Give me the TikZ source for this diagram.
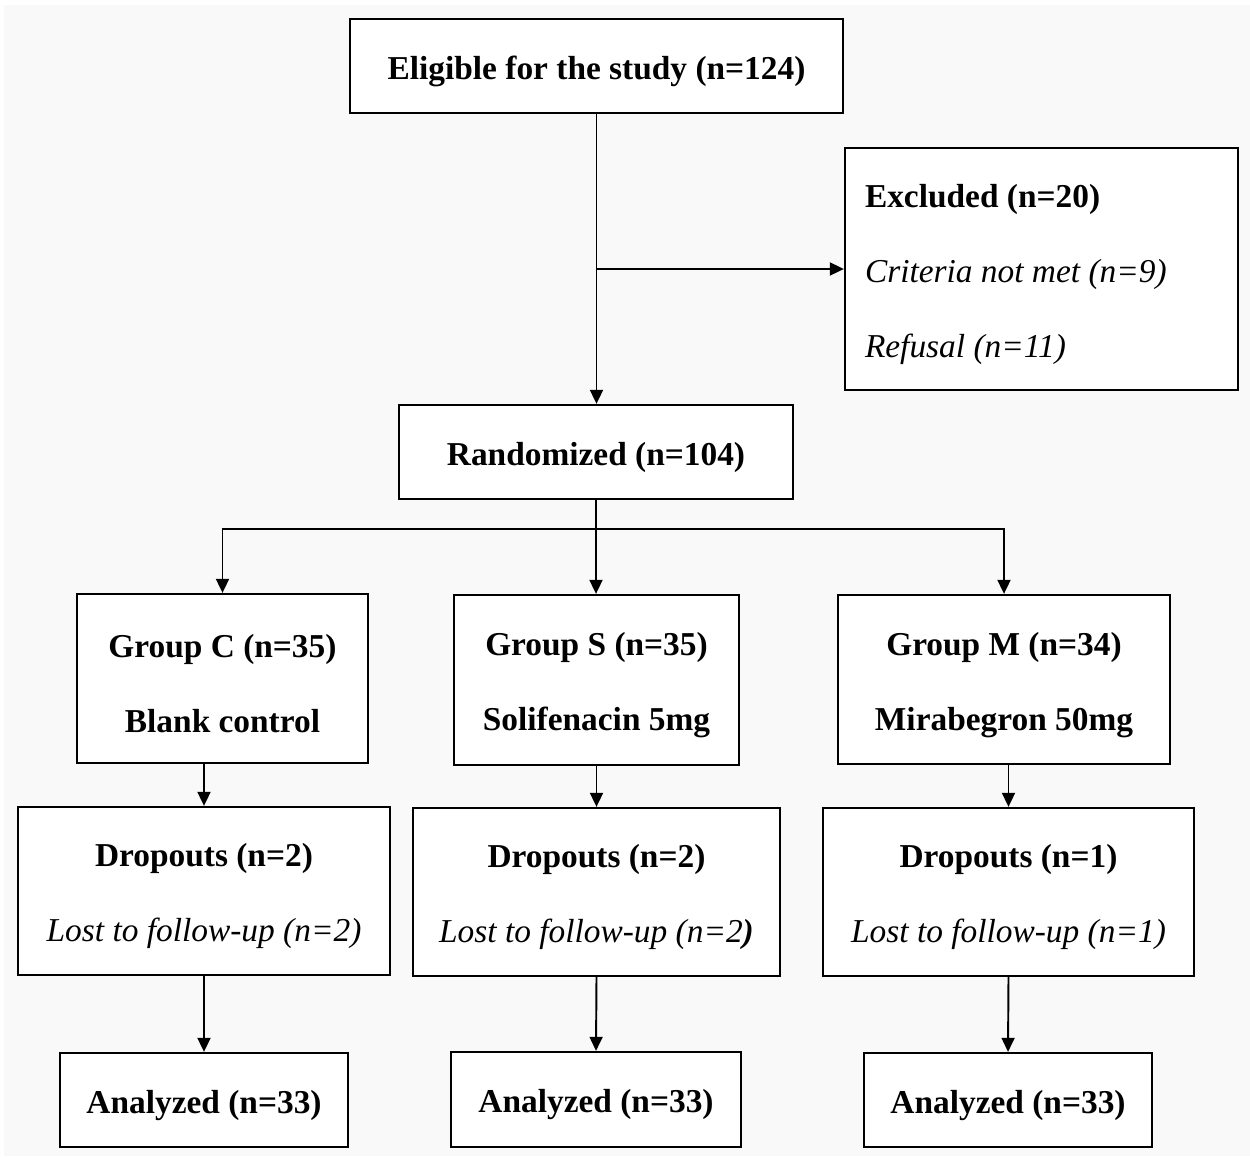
\documentclass[tikz,border=0pt]{standalone}
\usepackage{fontspec}
\setmainfont{Liberation Serif}
\usetikzlibrary{arrows.meta}
\definecolor{pagegray}{RGB}{249,249,249}
\tikzset{
    flowbox/.style = {draw, fill = white, line width = 1.3pt, inner sep = 0pt,
        align = flush center, font = \fontsize{19}{42.7}\selectfont\bfseries,
        execute at begin node = {\rule{0pt}{19pt}}},
    link/.style = {line width = 1.1pt, -{Triangle[length = 8pt, width = 7.4pt]}}
}
\begin{document}
\begin{tikzpicture}
    \useasboundingbox (0, 0) rectangle (25, -23.12);
    \fill[pagegray] (0.08, -0.1) rectangle (25, -23.12);
    % enrolment
    \node[flowbox, minimum width = 9.86cm, minimum height = 1.88cm] (elig)
        at (11.93, -1.32) {Eligible for the study (n=124)};
    \node[flowbox, minimum width = 7.86cm, minimum height = 4.84cm,
        text width = 7.06cm, inner xsep = 0.4cm, align = flush left] (excl)
        at (20.83, -5.38) {
            Excluded (n=20) \\
            \textnormal{\textit{Criteria not met (n=9)}} \\
            \textnormal{\textit{Refusal (n=11)}}
        };
    \node[flowbox, minimum width = 7.88cm, minimum height = 1.88cm] (rand)
        at (11.92, -9.04) {Randomized (n=104)};
    \coordinate (split) at (11.9, -10.58);
    % groups
    \node[flowbox, minimum width = 5.82cm, minimum height = 3.38cm, text width = 5.4cm] (grpC)
        at (4.45, -13.57) {Group C (n=35) \\ Blank control};
    \node[flowbox, minimum width = 5.7cm, minimum height = 3.4cm, text width = 5.3cm] (grpS)
        at (11.93, -13.6) {Group S (n=35) \\ Solifenacin 5mg};
    \node[flowbox, minimum width = 6.64cm, minimum height = 3.38cm, text width = 6.2cm] (grpM)
        at (20.08, -13.59) {Group M (n=34) \\ Mirabegron 50mg};
    % dropouts
    \node[flowbox, minimum width = 7.44cm, minimum height = 3.36cm, text width = 6.9cm] (dropC)
        at (4.08, -17.82) {Dropouts (n=2) \\ \textnormal{\textit{Lost to follow-up (n=2)}}};
    \node[flowbox, minimum width = 7.34cm, minimum height = 3.36cm, text width = 6.9cm] (dropS)
        at (11.93, -17.84) {Dropouts (n=2) \\ \textnormal{\textit{Lost to follow-up (n=2}}\textit{)}};
    \node[flowbox, minimum width = 7.42cm, minimum height = 3.36cm, text width = 6.9cm] (dropM)
        at (20.17, -17.84) {Dropouts (n=1) \\ \textnormal{\textit{Lost to follow-up (n=1)}}};
    % analysis
    \node[flowbox, minimum width = 5.76cm, minimum height = 1.88cm] (anaC)
        at (4.08, -22.0) {Analyzed (n=33)};
    \node[flowbox, minimum width = 5.8cm, minimum height = 1.9cm] (anaS)
        at (11.92, -21.99) {Analyzed (n=33)};
    \node[flowbox, minimum width = 5.76cm, minimum height = 1.88cm] (anaM)
        at (20.16, -22.0) {Analyzed (n=33)};
    % connectors
    \draw[link] (elig.south) -- (elig.south |- rand.north);
    \draw[link] (elig.south |- excl.west) -- (excl.west);
    \draw[link] (rand.south) -- (rand.south |- grpS.north);
    \draw[link] (split) -| (grpC.north);
    \draw[link] (split) -| (grpM.north);
    \foreach \g in {C, S, M} {
        \draw[link] (grp\g.south -| drop\g.north) -- (drop\g.north);
        \draw[link] (drop\g.south) -- (ana\g.north);
    }
\end{tikzpicture}
\end{document}
